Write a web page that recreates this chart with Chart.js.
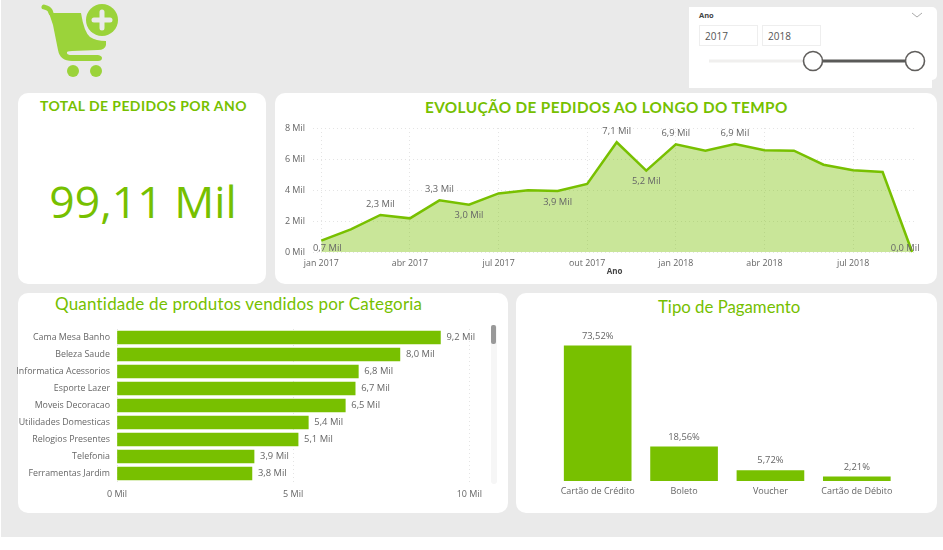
<!DOCTYPE html>
<html>
<head>
<meta charset="utf-8">
<script src="https://cdn.jsdelivr.net/npm/chart.js@4"></script>
<style>
html, body { margin: 0; padding: 0; background: #fff; }
#page { position: relative; width: 943px; height: 550px; overflow: hidden; font-family: "Open Sans", sans-serif; }
#back { position: absolute; left: 1px; top: 0; width: 942px; height: 537px; background: #eaeaea; }
.card { position: absolute; background: #fff; border-radius: 10px; }
.title { position: absolute; color: #76c000; white-space: nowrap; font-family: "Comic Sans MS", Lato, sans-serif; line-height: 1; }
canvas { position: absolute; }
#total { position: absolute; left: 18px; width: 250px; top: 172px; text-align: center; font-size: 44.5px; line-height: 58px; color: #76c000; white-space: nowrap; }
#logo { position: absolute; left: 0; top: 0; }
.input { position: absolute; top: 25px; width: 57px; height: 19px; border: 1px solid #eeeeee; font-size: 10px; line-height: 20px; color: #555; text-indent: 5px; }
#anoLabel { position: absolute; left: 699px; top: 10px; font-size: 7.5px; font-weight: 700; color: #444; line-height: 11px; }
#scrollTrack { position: absolute; left: 491px; top: 325px; width: 6px; height: 159px; background: #f6f6f6; border-radius: 3px; }
#scrollThumb { position: absolute; left: 491px; top: 325px; width: 5px; height: 19px; background: #999; border-radius: 2px; }
</style>
</head>
<body>
<div id="page">
    <div id="back"></div>

    <svg id="logo" width="130" height="82" viewBox="0 0 130 82">
        <path d="M44 7 L47 8 Q50 9 51 13" fill="none" stroke="#9bd33a" stroke-width="5" stroke-linecap="round"/>
        <path d="M49 13 L81 13 Q84 32 90 37 Q96 41 106 41 L106 45 Q105 50 98 50 L72 51 Q66 51 67 53 Q67 55 72 55 L98 55 Q102 56 102 58 Q102 61 98 61 L72 61 Q60 61 58 50 L53 25 Z" fill="#9bd33a"/>
        <circle cx="73" cy="71" r="6" fill="#9bd33a"/>
        <circle cx="96" cy="71" r="6" fill="#9bd33a"/>
        <circle cx="102" cy="20" r="16" fill="#9bd33a"/>
        <path d="M102 12 V28 M94 20 H110" stroke="#eaeaea" stroke-width="5" stroke-linecap="round"/>
    </svg>

    <div class="card" style="left:689px;top:7px;width:248px;height:73px;border-radius:0 5px 5px 0"></div>
    <div class="card" style="left:689px;top:7px;width:243px;height:81px;border-radius:0"></div>
    <div id="anoLabel">Ano</div>
    <div class="input" style="left:699px">2017</div>
    <div class="input" style="left:762px">2018</div>
    <svg style="position:absolute;left:689px;top:7px" width="248" height="81" viewBox="0 0 248 81">
        <path d="M223 6 L228 10 L233 6" fill="none" stroke="#aaa" stroke-width="1"/>
        <line x1="20" y1="54" x2="124" y2="54" stroke="#f0efee" stroke-width="3"/>
        <line x1="124" y1="54" x2="226" y2="54" stroke="#5a5a58" stroke-width="3"/>
        <circle cx="124" cy="54" r="9.5" fill="#fff" stroke="#605e5c" stroke-width="1.6"/>
        <circle cx="226" cy="54" r="9.5" fill="#fff" stroke="#605e5c" stroke-width="1.6"/>
    </svg>

    <div class="card" style="left:18px;top:93px;width:248px;height:191px"></div>
    <div class="card" style="left:275px;top:93px;width:662px;height:191px"></div>
    <div class="card" style="left:18px;top:293px;width:490px;height:220px"></div>
    <div class="card" style="left:516px;top:293px;width:421px;height:220px"></div>

    <div class="title" style="left:40px;top:99px;font-size:14px;font-weight:700;letter-spacing:.42px">TOTAL DE PEDIDOS POR ANO</div>
    <div class="title" style="left:425px;top:100px;font-size:15.3px;font-weight:700;letter-spacing:.4px">EVOLUÇÃO DE PEDIDOS AO LONGO DO TEMPO</div>
    <div class="title" style="left:55px;top:295px;font-size:17px;letter-spacing:.2px">Quantidade de produtos vendidos por Categoria</div>
    <div class="title" style="left:658px;top:299px;font-size:16.8px">Tipo de Pagamento</div>
    <div id="total">99,11 Mil</div>

    <canvas id="pedidosChart" style="left:275px;top:93px" width="662" height="191"></canvas>
    <canvas id="categoriaChart" style="left:8px;top:293px" width="500" height="220"></canvas>
    <canvas id="pagamentoChart" style="left:516px;top:293px" width="421" height="220"></canvas>

    <div id="scrollTrack"></div>
    <div id="scrollThumb"></div>
</div>

<script>
// data
var meses = [`jan 2017`, `fev 2017`, `mar 2017`, `abr 2017`, `mai 2017`, `jun 2017`, `jul 2017`, `ago 2017`, `set 2017`, `out 2017`, `nov 2017`, `dez 2017`,
    `jan 2018`, `fev 2018`, `mar 2018`, `abr 2018`, `mai 2018`, `jun 2018`, `jul 2018`, `ago 2018`, `set 2018`]
var pedidos = [0.73, 1.46, 2.39, 2.17, 3.33, 3.05, 3.78, 3.98, 3.93, 4.39, 7.08, 5.25, 6.95, 6.54, 6.97, 6.56, 6.54, 5.63, 5.27, 5.16, 0.0]
var pedidosLabels = [`0,7 Mil`, ``, `2,3 Mil`, ``, `3,3 Mil`, `3,0 Mil`, ``, ``, `3,9 Mil`, ``, `7,1 Mil`, `5,2 Mil`, `6,9 Mil`, ``, `6,9 Mil`, ``, ``, ``, ``, ``, `0,0 Mil`]
var pedidosTicks = [0, 2, 4, 6, 8]

var categorias = [`Cama Mesa Banho`, `Beleza Saude`, `Informatica Acessorios`, `Esporte Lazer`, `Moveis Decoracao`, `Utilidades Domesticas`, `Relogios Presentes`, `Telefonia`, `Ferramentas Jardim`]
var quantidades = [9.18, 8.03, 6.85, 6.76, 6.48, 5.43, 5.14, 3.89, 3.83]
var quantidadesLabels = [`9,2 Mil`, `8,0 Mil`, `6,8 Mil`, `6,7 Mil`, `6,5 Mil`, `5,4 Mil`, `5,1 Mil`, `3,9 Mil`, `3,8 Mil`]

var pagamentos = [`Cartão de Crédito`, `Boleto`, `Voucher`, `Cartão de Débito`]
var percentuais = [73.52, 18.56, 5.72, 2.21]
var percentuaisLabels = [`73,52%`, `18,56%`, `5,72%`, `2,21%`]

var green = `#78c000`
var textColor = `#666666`
var gridColor = `#e4e4e4`
var labelFont = `9.4px "Open Sans", sans-serif`

// which point labels sit under the line, the rest sit above it
var labelsBelow = [`jun 2017`, `set 2017`, `dez 2017`]
// first and last label are pushed inside the plot
var labelNudge = { 'jan 2017': [6, -8], 'set 2018': [-7, 4] }

Chart.defaults.animation = false
Chart.defaults.font.family = `"Open Sans", sans-serif`
Chart.defaults.font.size = 9
Chart.defaults.color = textColor
Chart.defaults.plugins.legend.display = false
Chart.defaults.plugins.tooltip.enabled = false
Chart.defaults.responsive = false

// draws one text per element, the position comes from place(point, index)
function textPlugin(texts, place){
    return {
        id: `textLabels`,
        afterDatasetsDraw(chart){
            var ctx = chart.ctx
            var points = chart.getDatasetMeta(0).data
            ctx.save()
            ctx.font = labelFont
            ctx.fillStyle = textColor
            ctx.textBaseline = `middle`
            for(var pos = 0; pos < points.length; pos++){
                if(texts[pos] == ``){
                    continue
                }
                var spot = place(points[pos], pos)
                ctx.textAlign = spot.align
                ctx.fillText(texts[pos], spot.x, spot.y)
            }
            ctx.restore()
        }
    }
}

function fixedSize(prop, size){
    return function(scale){
        scale[prop] = size
    }
}

new Chart(document.getElementById(`pedidosChart`), {
    type: `line`,
    data: {
        datasets: [{
            data: pedidos.map((value, pos) => ({ x: pos, y: value })),
            borderColor: green,
            borderWidth: 2.5,
            backgroundColor: `rgba(120, 192, 0, 0.4)`,
            fill: `origin`,
            tension: 0,
            pointRadius: 0,
            clip: false
        }]
    },
    options: {
        layout: { padding: { top: 35, right: 21 } },
        scales: {
            x: {
                type: `linear`,
                min: -0.28,
                max: 20.13,
                afterBuildTicks: (scale) => {
                    scale.ticks = meses.map((mes, pos) => ({ value: pos })).filter((tick) => tick.value % 3 == 0)
                },
                afterFit: fixedSize(`height`, 32),
                grid: { color: gridColor, lineWidth: 1, drawTicks: false },
                border: { display: false, dash: [1, 3] },
                ticks: {
                    padding: 6,
                    maxRotation: 0,
                    autoSkip: false,
                    font: { size: 8.8 },
                    callback: (value) => meses[value]
                },
                title: { display: true, text: `Ano`, font: { size: 8, weight: `bold` }, color: `#444444`, padding: { top: 0, bottom: 7 } }
            },
            y: {
                min: 0,
                max: 8,
                afterBuildTicks: (scale) => {
                    scale.ticks = pedidosTicks.map((tick) => ({ value: tick }))
                },
                afterFit: fixedSize(`width`, 38),
                grid: { color: gridColor, lineWidth: 1, drawTicks: false },
                border: { display: false, dash: [1, 3] },
                ticks: { padding: 8, callback: (value) => `${value} Mil` }
            }
        }
    },
    plugins: [textPlugin(pedidosLabels, (point, pos) => {
        var nudge = labelNudge[meses[pos]]
        if(nudge){
            return { x: point.x + nudge[0], y: point.y - nudge[1], align: `center` }
        }
        var below = labelsBelow.includes(meses[pos])
        return { x: point.x, y: point.y + (below ? 11 : -11), align: `center` }
    })]
})

new Chart(document.getElementById(`categoriaChart`), {
    type: `bar`,
    data: {
        labels: categorias,
        datasets: [{
            data: quantidades,
            backgroundColor: green,
            barThickness: 13
        }]
    },
    options: {
        indexAxis: `y`,
        layout: { padding: { top: 36, right: 38.7 } },
        scales: {
            x: {
                min: 0,
                max: 10,
                afterBuildTicks: (scale) => {
                    scale.ticks = [{ value: 0 }, { value: 5 }, { value: 10 }]
                },
                afterFit: fixedSize(`height`, 31),
                grid: { color: gridColor, drawTicks: false },
                border: { display: false, dash: [1, 3] },
                ticks: { padding: 7, maxRotation: 0, callback: (value) => `${value} Mil` }
            },
            y: {
                afterFit: fixedSize(`width`, 109),
                grid: { display: false, drawTicks: false },
                border: { display: false },
                ticks: { padding: 7, autoSkip: false, font: { size: 8.85 } }
            }
        }
    },
    plugins: [textPlugin(quantidadesLabels, (point) => ({ x: point.x + 6, y: point.y, align: `left` }))]
})

new Chart(document.getElementById(`pagamentoChart`), {
    type: `bar`,
    data: {
        labels: pagamentos,
        datasets: [{
            data: percentuais,
            backgroundColor: green,
            barThickness: 67
        }]
    },
    options: {
        layout: { padding: { top: 41, left: 38.5, right: 37 } },
        scales: {
            x: {
                afterFit: fixedSize(`height`, 32),
                grid: { display: false, drawTicks: false },
                border: { display: false },
                ticks: { padding: 5, maxRotation: 0, autoSkip: false }
            },
            y: {
                display: false,
                min: 0,
                max: 80
            }
        }
    },
    plugins: [textPlugin(percentuaisLabels, (point) => ({ x: point.x, y: point.y - 10, align: `center` }))]
})
</script>
</body>
</html>
